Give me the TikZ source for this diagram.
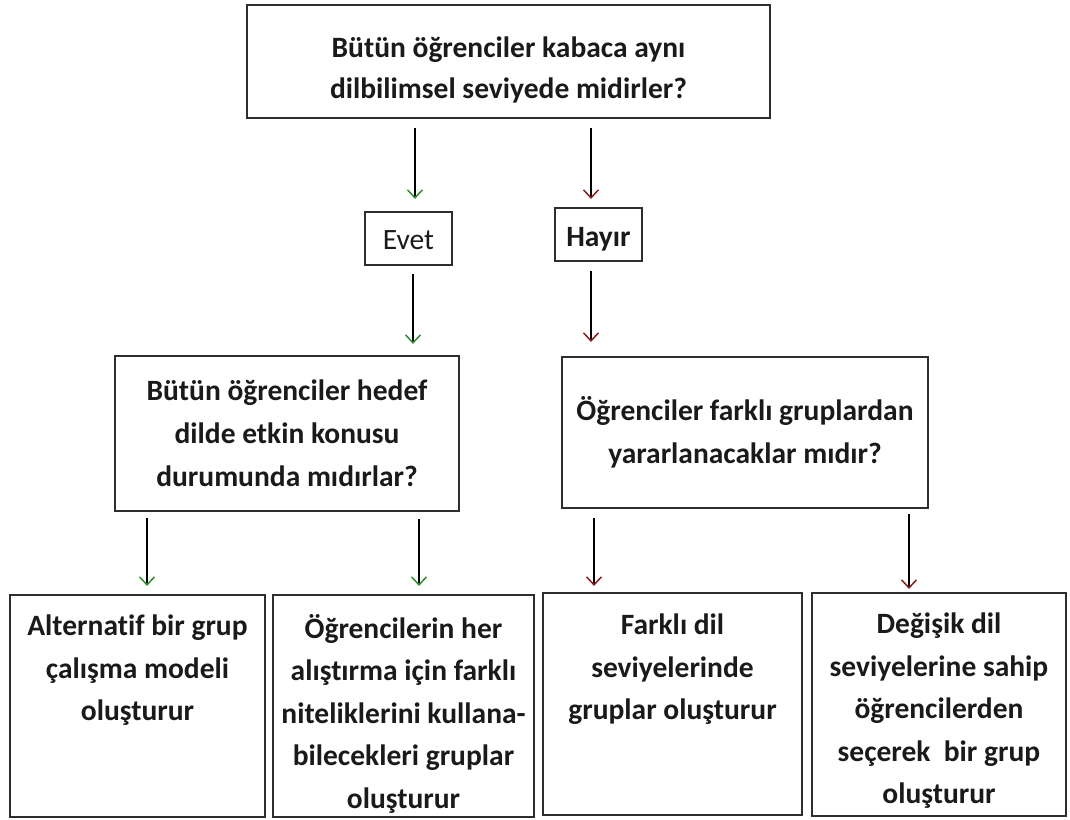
\documentclass[tikz,border=0pt]{standalone}
\usepackage{fontspec}
\setmainfont{Carlito}[Ligatures=CommonOff]
\usetikzlibrary{arrows.meta}

\definecolor{yesgreen}{HTML}{2E8B2E}
\definecolor{nored}{HTML}{8B1A1A}
\definecolor{frame}{HTML}{2E2E2E}
\definecolor{ink}{HTML}{1A1A1A}

\tikzset{
  box/.style={draw=frame, line width=2.2pt, inner sep=0pt, align=center,
    text=ink, font=\bfseries\fontsize{29.5}{43}\selectfont},
  link/.style={draw=black, line width=1.5pt},
  yes/.style={link, -{Straight Barb[length=8pt,width=15pt,line width=1.5pt,color=yesgreen]}},
  no/.style={link, -{Straight Barb[length=8pt,width=15pt,line width=1.5pt,color=nored]}},
}

% text block of fixed size, set from the top with a given gap
\newcommand{\textblock}[4]{\parbox[c][#1][t]{#2}{\centering\fontsize{29.5}{42.5}\selectfont\vspace*{#3}#4}}
% single word whose baseline sits a given distance below the box centre
\newcommand{\lowword}[2]{\raisebox{-#1}[0pt][0pt]{#2}}

\begin{document}
\begin{tikzpicture}[x=1pt, y=-1pt]
  \useasboundingbox (0,0) rectangle (1070,819);

  % first question
  \node[box, minimum width=523pt, minimum height=113pt] (q1) at (508.5,61.5)
    {\textblock{113pt}{515pt}{32pt}{Bütün öğrenciler kabaca aynı\\[-1.5pt]dilbilimsel seviyede midirler?}};

  % answers
  \node[box, font=\fontsize{29.5}{43}\selectfont, minimum width=87pt, minimum height=53pt] (yesbox) at (408.5,238.5) {\lowword{10.5pt}{Evet}};
  \node[box, minimum width=87pt, minimum height=53pt] (nobox) at (598.5,234.5) {\lowword{11.5pt}{Hayır}};

  % second-level questions
  \node[box, minimum width=344pt, minimum height=155pt] (q2) at (287,433.5)
    {Bütün öğrenciler hedef\\dilde etkin konusu\\durumunda mıdırlar?};
  \node[box, minimum width=366pt, minimum height=151pt] (q3) at (745,432.5)
    {Öğrenciler farklı gruplardan\\yararlanacaklar mıdır?};

  % outcomes
  \node[box, minimum width=255pt, minimum height=222pt] (o1) at (137.5,706)
    {\textblock{222pt}{249pt}{20pt}{Alternatif bir grup\\çalışma modeli\\oluşturur}};
  \node[box, minimum width=261pt, minimum height=222pt] (o2) at (403.5,706)
    {\textblock{222pt}{255pt}{19pt}{Öğrencilerin her\\alıştırma için farklı\\niteliklerini kullana-\\bilecekleri gruplar\\oluşturur}};
  \node[box, minimum width=259pt, minimum height=222pt] (o3) at (672.5,704)
    {\textblock{222pt}{253pt}{21pt}{Farklı dil\\seviyelerinde\\gruplar oluşturur}};
  \node[box, minimum width=254pt, minimum height=223pt] (o4) at (939,704.5)
    {\textblock{223pt}{248pt}{20pt}{Değişik dil\\seviyelerine sahip\\öğrencilerden\\seçerek~ bir grup\\oluşturur}};

  % x positions of the connectors
  \coordinate (ca) at (415,0);
  \coordinate (cb) at (591,0);
  \coordinate (cc) at (413,0);
  \coordinate (cd) at (591,0);
  \coordinate (ce) at (147,0);
  \coordinate (cf) at (419,0);
  \coordinate (cg) at (594,0);
  \coordinate (ch) at (909,0);

  % connectors
  \draw[yes, shorten <=9pt, shorten >=12pt] (q1.south -| ca) -- (yesbox.north -| ca);
  \draw[no,  shorten <=9pt, shorten >=8pt]  (q1.south -| cb) -- (nobox.north -| cb);
  \draw[yes, shorten <=8pt, shorten >=11pt] (yesbox.south -| cc) -- (q2.north -| cc);
  \draw[no,  shorten <=9pt, shorten >=14pt] (nobox.south -| cd) -- (q3.north -| cd);
  \draw[yes, shorten <=6pt, shorten >=8pt] (q2.south -| ce) -- (o1.north -| ce);
  \draw[yes, shorten <=7pt, shorten >=8pt] (q2.south -| cf) -- (o2.north -| cf);
  \draw[no,  shorten <=9pt, shorten >=6pt] (q3.south -| cg) -- (o3.north -| cg);
  \draw[no,  shorten <=5pt, shorten >=3pt] (q3.south -| ch) -- (o4.north -| ch);
\end{tikzpicture}
\end{document}
